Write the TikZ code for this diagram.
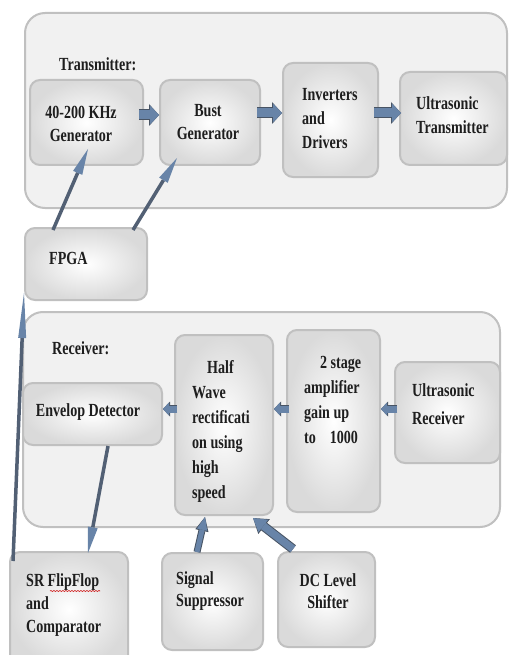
\documentclass[tikz,border=0pt]{standalone}
\usepackage{fontspec}
\setmainfont[FakeStretch=0.76]{Liberation Serif}
\usetikzlibrary{arrows.meta,decorations.pathmorphing}

\definecolor{boxline}{RGB}{192,192,192}
\definecolor{contfill}{RGB}{241,241,241}
\definecolor{boxouter}{RGB}{218,218,218}
\definecolor{arrowfill}{RGB}{104,132,168}
\definecolor{arrowedge}{RGB}{72,84,100}
\definecolor{thinline}{RGB}{82,96,116}
\definecolor{txt}{RGB}{30,30,30}

\begin{document}
\begin{tikzpicture}[x=1pt,y=-1pt,
  container/.style={draw=boxline, line width=2pt, rounded corners=20pt, fill=contfill},
  box/.style={draw=boxline, line width=2pt, rounded corners=10pt, shading=radial, inner color=white, outer color=boxouter},
  lbl/.style={font=\bfseries\fontsize{18.5}{#1}\selectfont, text=txt, inner sep=0pt, align=left},
  lbl/.default=23,
  blk/.style={line width=9pt, draw=arrowfill,
    -{Triangle[length=9pt,width=19pt,line width=0pt]},
    preaction={draw=arrowedge, line width=11pt, -{Triangle[length=10pt,width=22pt,line width=0pt]}}},
  sblk/.style={line width=7pt, draw=arrowfill,
    -{Triangle[length=6pt,width=13pt,line width=0pt]},
    preaction={draw=arrowedge, line width=8.5pt, -{Triangle[length=7pt,width=15pt,line width=0pt]}}},
  thin/.style={line width=3.5pt, draw=thinline,
    -{Triangle[length=26pt,width=10pt,line width=0pt,fill=arrowfill]}},
  vblk/.style={line width=#1, draw=arrowfill,
    -{Triangle[length=13pt,width=2.1*#1,line width=0pt]},
    preaction={draw=arrowedge, line width=#1+2pt, -{Triangle[length=14pt,width=2.1*#1+3pt,line width=0pt]}}},
]
\useasboundingbox (0,0) rectangle (509,655);
\clip (0,0) rectangle (509,655);

% containers
\node[container, minimum width=482pt, minimum height=195pt] (tx) at (266,110.5) {};
\node[container, minimum width=477pt, minimum height=215pt] (rx) at (261.5,419.5) {};

% transmitter boxes
\node[box, minimum width=113pt, minimum height=85pt] (gen) at (86.5,122.5) {};
\node[box, minimum width=100pt, minimum height=85pt] (bust) at (210,122.5) {};
\node[box, minimum width=95pt, minimum height=114pt] (inv) at (330.5,120) {};
\node[box, minimum width=107pt, minimum height=93pt] (utx) at (453.5,118.5) {};

% FPGA
\node[box, minimum width=122pt, minimum height=72pt] (fpga) at (86,264) {};

% receiver boxes
\node[box, minimum width=139pt, minimum height=62pt] (env) at (92.5,414) {};
\node[box, minimum width=98pt, minimum height=180pt] (half) at (224,425) {};
\node[box, minimum width=93pt, minimum height=182pt] (amp) at (333.5,421) {};
\node[box, minimum width=105pt, minimum height=101pt] (urx) at (447.5,412.5) {};

% bottom boxes
\node[box, minimum width=118pt, minimum height=115pt] (sr) at (69,609.5) {};
\node[box, minimum width=101pt, minimum height=97pt] (sig) at (212.5,601.5) {};
\node[box, minimum width=97pt, minimum height=95pt] (dc) at (326.5,599.5) {};

% labels
\node[lbl, anchor=west] (ttx) at (59,64) {Transmitter:};
\node[lbl, align=center] (tgen) at (81,123.5) {40-200 KHz\\Generator};
\node[lbl, align=center] (tbust) at (208,122.5) {Bust\\Generator};
\node[lbl=24, anchor=west] (tinv) at (302,119) {Inverters\\and\\Drivers};
\node[lbl=24, anchor=west] (tutx) at (416,115) {Ultrasonic\\Transmitter};
\node[lbl, anchor=west] (tfpga) at (49,258) {FPGA};
\node[lbl, anchor=west] (trx) at (52,348) {Receiver:};
\node[lbl, align=center] (tenv) at (88,412) {Envelop Detector};
\node[lbl=25, anchor=west] (thalf) at (192,431) {\hspace*{15pt}Half\\Wave\\rectificati\\on using\\high\\speed};
\node[lbl=24.7, anchor=west] (tamp) at (304,400) {\hspace*{16pt}2 stage\\amplifier\\gain up\\to\hspace*{14pt}1000};
\node[lbl=28, anchor=west] (turx) at (412,404) {Ultrasonic\\Receiver};
\node[lbl, anchor=west] (tsr) at (26,605) {SR FlipFlop\\and\\Comparator};
\node[lbl=22, anchor=west] (tsig) at (176,591) {Signal\\Suppressor};
\node[lbl=22, align=center] (tdc) at (328,591) {DC Level\\Shifter};

% spell-check underline
\coordinate (ul1) at (50,591);
\coordinate (ul2) at (100,591);
\draw[red!80!black, line width=0.6pt, decorate, decoration={snake, amplitude=0.5pt, segment length=3pt}] (ul1) -- (ul2);

% transmitter chain arrows
\draw[blk] ([xshift=-5pt,yshift=7.5pt]gen.east) -- ([yshift=7.5pt]bust.west);
\draw[blk] ([xshift=-4pt,yshift=9.5pt]bust.east) -- ([yshift=7pt]inv.west);
\draw[blk] ([xshift=-5pt,yshift=7pt]inv.east) -- ([xshift=2pt,yshift=5.5pt]utx.west);

% receiver chain arrows (leftwards)
\draw[sblk] ([xshift=3pt,yshift=16pt]half.west) -- ([yshift=5pt]env.east);
\draw[sblk] ([xshift=3pt,yshift=12pt]amp.west) -- ([yshift=16pt]half.east);
\draw[sblk] ([xshift=3pt,yshift=3.5pt]urx.west) -- ([yshift=12pt]amp.east);

% FPGA to transmitter
\draw[thin] ([xshift=-33pt,yshift=-3pt]fpga.north) -- ([xshift=1.5pt,yshift=17pt]gen.south);
\draw[thin] ([xshift=47pt,yshift=-3pt]fpga.north) -- ([xshift=-33pt,yshift=8pt]bust.south);

% SR flipflop to FPGA
\draw[thin, -{Triangle[length=45pt,width=8pt,line width=0pt,fill=arrowfill]}] ([xshift=-56pt,yshift=-10pt]sr.north) -- ([yshift=8pt]fpga.south west);

% envelope detector to SR flipflop
\draw[thin] ([xshift=15.5pt]env.south) -- ([xshift=19pt,yshift=-2pt]sr.north);

% signal suppressor and DC level shifter to half wave
\draw[vblk=5pt] ([xshift=-15.5pt]sig.north) -- ([xshift=-19pt,yshift=-1pt]half.south);
\draw[vblk=7.5pt] ([xshift=-33.5pt,yshift=2pt]dc.north) -- ([xshift=29pt,yshift=-2pt]half.south);
\end{tikzpicture}
\end{document}
